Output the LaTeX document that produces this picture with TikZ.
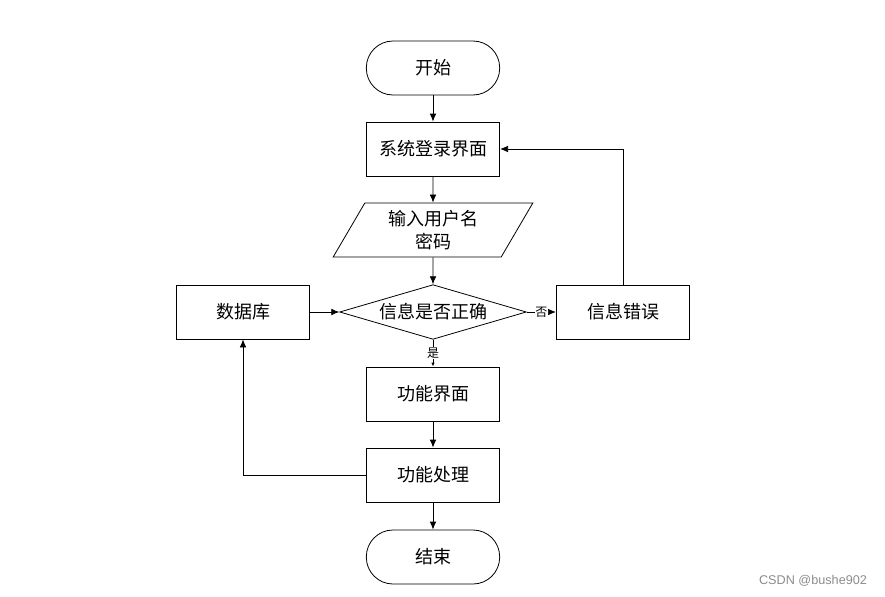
\documentclass[tikz,border=0pt]{standalone}
\usepackage{fontspec}
\setmainfont{Noto Sans CJK SC}
\newfontfamily\markfont{Liberation Sans}
\usetikzlibrary{shapes.geometric,arrows.meta}
\tikzset{>={Latex[length=6pt,width=5pt]}}

\begin{document}
\begin{tikzpicture}[x=0.75pt,y=-0.75pt,line width=0.6pt]

	\tikzstyle{step_box} = [rectangle, draw=black, minimum width=100pt, minimum height=40.5pt, inner sep=0pt, font=\fontsize{13.5}{17}\selectfont]
	\tikzstyle{term_box} = [step_box, rounded corners=20pt]
	\tikzstyle{io_box} = [trapezium, trapezium left angle=62, trapezium right angle=118, trapezium stretches=true, draw=black, minimum width=150pt, minimum height=40.5pt, inner sep=0pt, align=center, font=\fontsize{13.5}{17}\selectfont]
	\tikzstyle{check_box} = [diamond, shape aspect=3.4, draw=black, minimum width=140pt, minimum height=41pt, inner sep=0pt, font=\fontsize{13.5}{17}\selectfont]
	\tikzstyle{edge_label} = [fill=white, inner sep=0.5pt, font=\fontsize{9}{10}\selectfont]

	\useasboundingbox (0,0) rectangle (885,596);

%------------------------------------------------------------
	\node[term_box]  (start) at (433,68)  {开始};
	\node[step_box]  (login) at (433,149) {系统登录界面};
	\node[io_box]    (input) at (433,230) {输入用户名\\密码};
	\node[check_box] (check) at (433,312) {信息是否正确};

	\path[->] (start) edge (login);
	\path[->] (login) edge (input);
	\path[->] (input) edge (check);

%------------------------------------------------------------
	\node[step_box] (db)  at (243,312) {数据库};
	\node[step_box] (err) at (623,312) {信息错误};

	\path[->] (db) edge (check);
	\path[->] (check) edge node[edge_label] {否} (err);
	\draw[->] (err.north) |- (login.east);

%------------------------------------------------------------
	\node[step_box] (func) at (433,394) {功能界面};
	\node[step_box] (proc) at (433,475) {功能处理};
	\node[term_box] (stop) at (433,557) {结束};

	\path[-{Latex[length=3pt,width=2.5pt]}] (check) edge node[edge_label] {是} (func);
	\path[->] (func) edge (proc);
	\path[->] (proc) edge (stop);
	\draw[->] (proc.west) -| (db.south);

%------------------------------------------------------------
	\node[text=black!45, font=\markfont\fontsize{9.5}{11}\selectfont] (mark) at (813,581) {CSDN @bushe902};

\end{tikzpicture}
\end{document}
